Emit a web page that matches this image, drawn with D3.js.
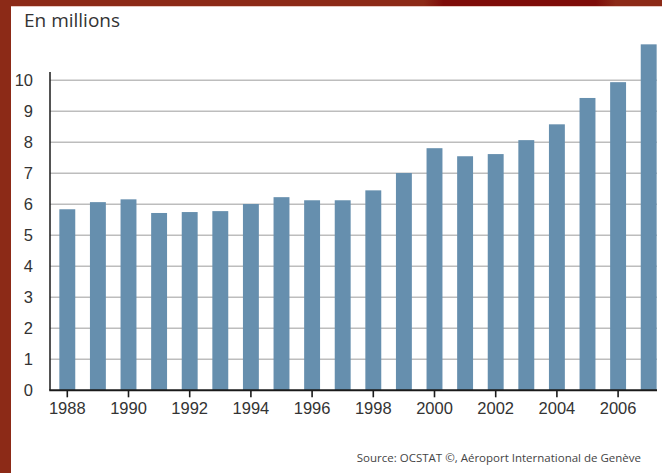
<!DOCTYPE html>
<html>
<head>
<meta charset="utf-8">
<script src="https://cdn.jsdelivr.net/npm/d3@7"></script>
<style>
  html, body { margin: 0; padding: 0; background: #fff; }
  svg { display: block; font-family: "Open Sans", "Noto Sans", sans-serif; }
</style>
</head>
<body>
<div id="chart-container"></div>
<script>
(function() {
  'use strict';

const years = [1988, 1989, 1990, 1991, 1992, 1993, 1994, 1995, 1996, 1997,
               1998, 1999, 2000, 2001, 2002, 2003, 2004, 2005, 2006, 2007];
const passengers = [5.84, 6.07, 6.16, 5.72, 5.75, 5.78, 6.01, 6.23, 6.13, 6.13,
                    6.45, 7.01, 7.81, 7.55, 7.62, 8.07, 8.58, 9.43, 9.94, 11.16];
const xTickYears = [1988, 1990, 1992, 1994, 1996, 1998, 2000, 2002, 2004, 2006];
const yTicks = [0, 1, 2, 3, 4, 5, 6, 7, 8, 9, 10];

const chart = "#chart-container";

const W = 662;
const H = 473;
const AXIS_X = 50;
const AXIS_END = 657;

const svg = d3.select(chart)
  .append('svg')
    .attr('width', W)
    .attr('height', H);

// frame: red band on top and on the left
const grad = svg.append('defs').append('linearGradient')
  .attr('id', 'topband')
  .attr('x1', '0%').attr('x2', '100%');
[[0, '#8c2a17'], [0.64, '#8c2a17'], [0.67, '#7e0d09'], [0.9, '#7e0d09'], [0.93, '#8c2a17'], [1, '#8c2a17']]
  .forEach(s => grad.append('stop').attr('offset', s[0]).attr('stop-color', s[1]));

svg.append('rect')
  .attr('x', 0).attr('y', 0)
  .attr('width', W).attr('height', 6)
  .attr('fill', 'url(#topband)');
svg.append('rect')
  .attr('x', 0).attr('y', 6)
  .attr('width', W).attr('height', 1)
  .attr('fill', '#e8c8c0');
svg.append('rect')
  .attr('x', 0).attr('y', 0)
  .attr('width', 11).attr('height', H)
  .attr('fill', '#8c2a17');

const xScale = d3.scaleBand()
  .domain(years)
  .range([52, 664])
  .paddingInner(0.48)
  .paddingOuter(0.24);

const yScale = d3.scaleLinear()
  .domain([0, 10])
  .range([390.3, 80.3]);

// gridlines
svg.append('g')
  .selectAll('line')
  .data(yTicks.filter(d => d > 0))
  .enter()
  .append('line')
    .attr('x1', AXIS_X)
    .attr('x2', AXIS_END)
    .attr('y1', d => yScale(d))
    .attr('y2', d => yScale(d))
    .attr('stroke', '#bdbdbd')
    .attr('stroke-width', 1.6);

// bars
svg.selectAll('rect.bar')
  .data(years)
  .enter()
  .append('rect')
    .attr('class', 'bar')
    .attr('x', d => xScale(d))
    .attr('y', (d, i) => yScale(passengers[i]))
    .attr('width', xScale.bandwidth())
    .attr('height', (d, i) => yScale(0) - yScale(passengers[i]))
    .attr('fill', '#668fae');

// y axis
const yAxis = d3.axisLeft(yScale)
  .tickValues(yTicks)
  .tickSize(0)
  .tickPadding(17)
  .tickFormat(d3.format('d'));

const gy = svg.append('g')
  .attr('id', 'y-axis')
  .attr('transform', `translate(${AXIS_X}, 0)`)
  .call(yAxis);
gy.select('.domain').remove();
gy.selectAll('text')
  .attr('fill', '#333')
  .style('font-size', '16.5px');

svg.append('line')
  .attr('x1', AXIS_X).attr('x2', AXIS_X)
  .attr('y1', 72).attr('y2', yScale(0))
  .attr('stroke', '#1a1a1a')
  .attr('stroke-width', 1.5);

// x axis
const xAxis = d3.axisBottom(xScale)
  .tickValues(xTickYears)
  .tickSize(7)
  .tickPadding(5);

const gx = svg.append('g')
  .attr('id', 'x-axis')
  .attr('transform', `translate(0, ${yScale(0)})`)
  .call(xAxis);
gx.select('.domain').remove();
gx.selectAll('.tick line')
  .attr('stroke', '#1a1a1a')
  .attr('stroke-width', 1.6);
gx.selectAll('text')
  .attr('fill', '#333')
  .style('font-size', '16.5px');

svg.append('line')
  .attr('x1', AXIS_X - 0.75).attr('x2', AXIS_END)
  .attr('y1', yScale(0)).attr('y2', yScale(0))
  .attr('stroke', '#1a1a1a')
  .attr('stroke-width', 2);

// texts
svg.append('text')
  .attr('x', 24)
  .attr('y', 27)
  .attr('fill', '#333')
  .style('font-size', '19px')
  .text('En millions');

svg.append('text')
  .attr('x', 641)
  .attr('y', 462)
  .attr('text-anchor', 'end')
  .attr('fill', '#444')
  .style('font-size', '11.5px')
  .text('Source: OCSTAT ©, Aéroport International de Genève');

})()
</script>
</body>
</html>
